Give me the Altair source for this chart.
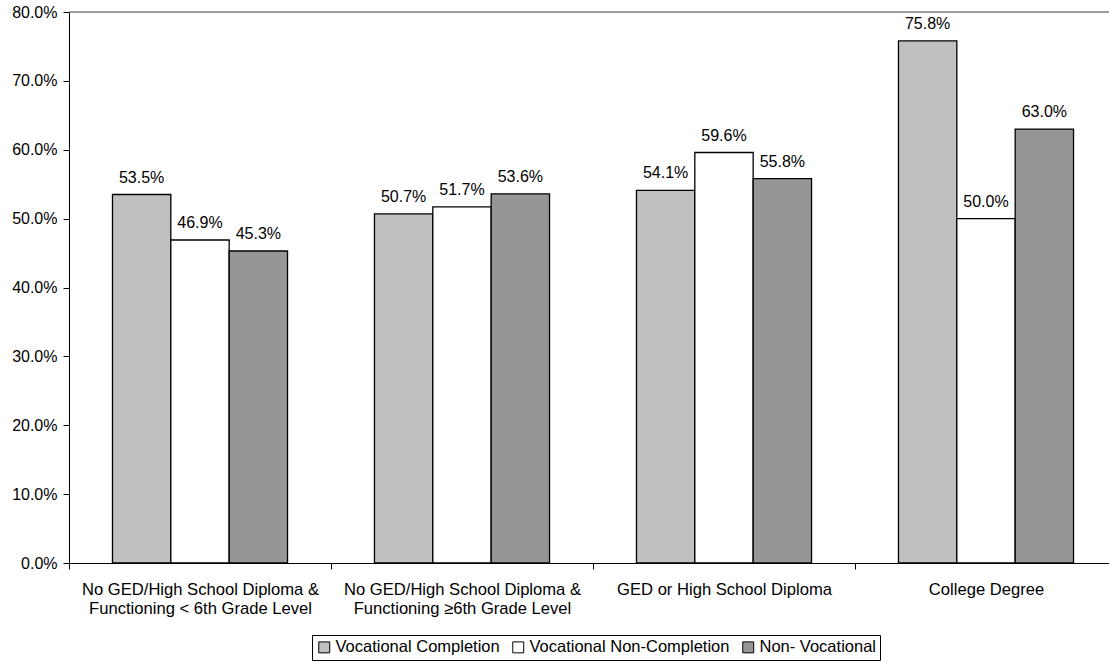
import altair as alt
import pandas as pd

# Education level groups (two lines per axis label)
category_line1 = [
    "No GED/High School Diploma &",
    "No GED/High School Diploma &",
    "GED or High School Diploma",
    "College Degree",
]
category_line2 = [
    "Functioning < 6th Grade Level",
    "Functioning \u22656th Grade Level",
    "",
    "",
]

series = ["Vocational Completion", "Vocational Non-Completion", "Non- Vocational"]
series_colors = ["#C0C0C0", "#FFFFFF", "#969696"]

# Percentages per group, one list per series
vocational_completion = [53.5, 50.7, 54.1, 75.8]
vocational_non_completion = [46.9, 51.7, 59.6, 50.0]
non_vocational = [45.3, 53.6, 55.8, 63.0]

categories = [
    (a + "|" + b) if b else a for a, b in zip(category_line1, category_line2)
]

rows = []
for name, values in zip(series, [vocational_completion, vocational_non_completion, non_vocational]):
    for cat, v in zip(categories, values):
        rows.append({"category": cat, "series": name, "value": v})
df = pd.DataFrame(rows)

FONT = "Liberation Sans"
PLOT_W = 1040
BAND_RANGE = 1048
PLOT_H = 551

x_enc = alt.X(
    "category:N",
    sort=categories,
    title=None,
    scale=alt.Scale(range=[0, BAND_RANGE], paddingInner=0, paddingOuter=0),
    axis=alt.Axis(
        labelAngle=0,
        labelExpr="split(datum.label, '|')",
        labelFontSize=16.6,
        labelLineHeight=19,
        labelColor="black",
        labelPadding=12,
        labelLimit=0,
        tickBand="extent",
        tickSize=6,
        tickColor="black",
        domainColor="black",
        labelFont=FONT,
    ),
)
xoff_enc = alt.XOffset(
    "series:N", sort=series, scale=alt.Scale(paddingOuter=0.745, paddingInner=0)
)
y_enc = alt.Y(
    "value:Q",
    title=None,
    scale=alt.Scale(domain=[0, 80], nice=False),
    axis=alt.Axis(
        values=[0, 10, 20, 30, 40, 50, 60, 70, 80],
        labelExpr="format(datum.value, '.1f') + '%'",
        grid=False,
        labelFontSize=16,
        labelColor="black",
        labelFont=FONT,
        tickSize=6,
        tickColor="black",
        domainColor="black",
        labelPadding=6,
    ),
)

base = alt.Chart(df)

top_line = alt.Chart(alt.Data(values=[{"k": 0}])).mark_rule(
    color="#808080", strokeWidth=1.5
).encode(x=alt.value(0), x2=alt.value(BAND_RANGE), y=alt.value(0))

bars = base.mark_bar(stroke="black", strokeWidth=1.3).encode(
    x=x_enc,
    xOffset=xoff_enc,
    y=y_enc,
    color=alt.Color(
        "series:N",
        sort=series,
        scale=alt.Scale(domain=series, range=series_colors),
        legend=alt.Legend(
            title=None,
            orient="none",
            legendX=243,
            legendY=623,
            direction="horizontal",
            symbolType="square",
            symbolSize=120,
            symbolStrokeColor="black",
            symbolStrokeWidth=1,
            labelFontSize=16.5,
            labelFont=FONT,
            labelColor="black",
            labelLimit=0,
            labelOffset=3,
            columnPadding=10,
            padding=4,
            strokeColor="black",
            fillColor="white",
        ),
    ),
)

labels = base.mark_text(
    dy=-12, baseline="alphabetic", fontSize=16, font=FONT, color="black"
).transform_calculate(
    label="format(datum.value, '.1f') + '%'"
).encode(
    x=x_enc,
    xOffset=xoff_enc,
    y=y_enc,
    text="label:N",
)

chart = (
    alt.layer(top_line, bars, labels)
    .properties(
        width=PLOT_W,
        height=PLOT_H,
        autosize=alt.AutoSizeParams(type="none"),
        padding={"left": 69, "top": 12, "right": 0, "bottom": 99},
    )
    .configure_view(stroke=None)
    .configure(font=FONT, background="white")
)

chart.save("out.html", embed_options={"renderer": "svg", "actions": False})
